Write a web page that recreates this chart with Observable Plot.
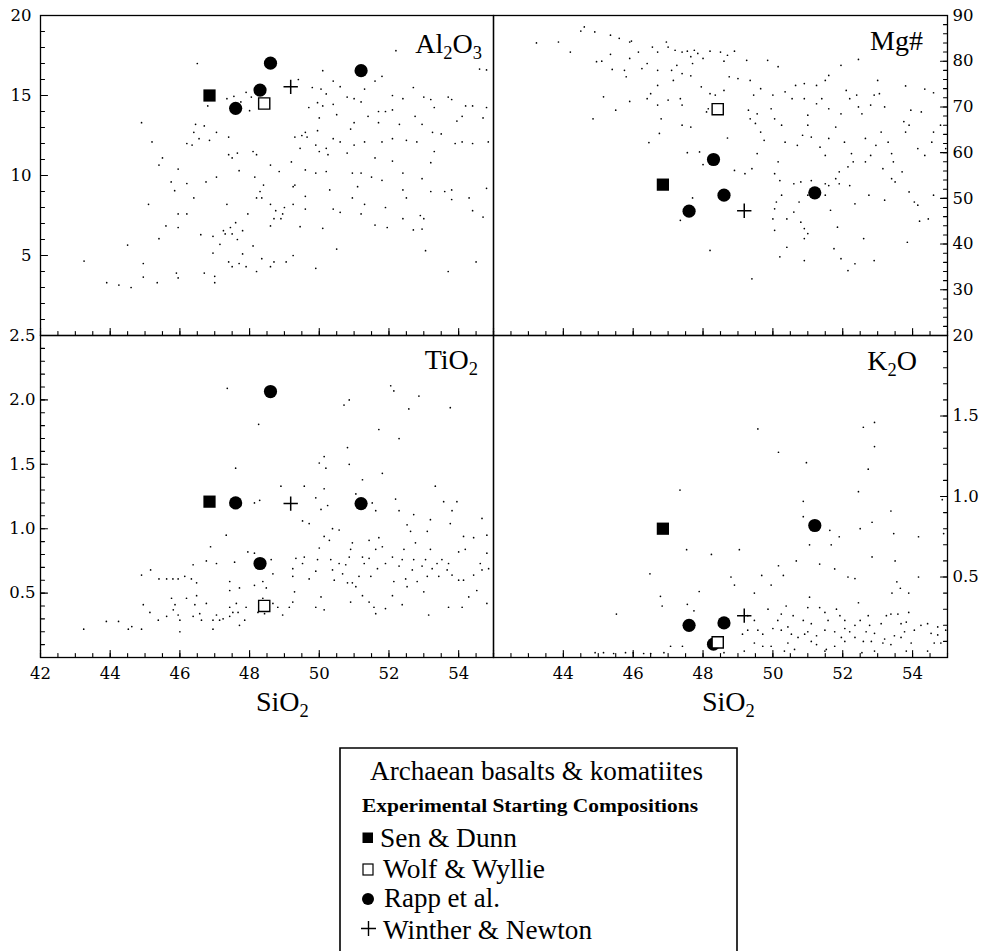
<!DOCTYPE html>
<html><head><meta charset="utf-8">
<script src="https://cdn.jsdelivr.net/npm/d3@7"></script>
<script src="https://cdn.jsdelivr.net/npm/@observablehq/plot@0.6"></script>
<style>
html,body{margin:0;padding:0;background:#fff;}
#root{position:relative;width:984px;height:951px;overflow:hidden;font-family:"Liberation Serif",serif;}
#root > svg{position:absolute;overflow:visible;}
#root > svg.panel text{font-family:"DejaVu Serif",serif !important;font-size:16.5px !important;fill:#000;}
</style></head><body><div id="root"></div>
<script>
// ---------- DATA ----------
// Experimental starting compositions (SiO2 shared by all four panels)
const expSeries = ["Sen & Dunn","Wolf & Wyllie","Rapp et al.","Rapp et al.","Rapp et al.","Rapp et al.","Winther & Newton"];
const expSiO2   = [46.85, 48.42, 47.6, 48.3, 48.6, 51.2, 49.18];
const expAl2O3  = [15.0, 14.5, 14.2, 15.34, 17.02, 16.55, 15.54];
const expMg     = [53.0, 69.5, 47.2, 58.5, 50.7, 51.2, 47.3];
const expTiO2   = [1.21, 0.40, 1.2, 0.73, 2.065, 1.195, 1.195];
const expK2O    = [0.80, 0.094, 0.20, 0.083, 0.215, 0.82, 0.26];

// Archaean basalts & komatiites  [SiO2, oxide]
const bgAl2O3 = [
[46.5,17.0],[52.2,17.8],[54.6,16.65],[54.8,16.6],[50.1,16.55],[49.4,16.0],[50.4,15.9],[50.6,15.55],[51.6,15.9],[51.8,16.2],
[49.8,15.5],[50.05,15.4],[50.2,15.1],[51.3,15.4],[50.8,14.9],[51.0,14.8],[51.2,14.6],[52.7,15.5],[52.1,15.0],[52.4,14.8],
[53.0,14.9],[53.2,14.75],[53.7,14.9],[53.8,14.75],[53.3,14.25],[54.2,14.35],[54.4,14.35],[54.8,14.25],[54.7,13.6],[54.1,13.7],
[53.95,13.4],[49.7,14.25],[49.95,14.55],[50.1,14.35],[50.4,14.45],[50.0,13.6],[50.5,13.8],[51.0,13.3],[51.7,14.0],[51.9,14.0],
[52.1,14.1],[52.75,13.7],[52.95,13.2],[52.3,13.2],[51.7,13.3],[51.4,13.7],[50.9,12.9],[49.95,12.8],[49.6,12.7],[49.3,12.4],
[50.4,12.3],[50.6,12.1],[51.0,11.9],[51.3,12.1],[51.8,12.1],[52.1,12.3],[52.5,12.2],[52.8,12.1],[53.25,12.7],[53.5,12.6],
[53.9,12.0],[54.1,12.1],[54.4,12.0],[54.85,12.1],[50.2,11.7],[50.25,11.3],[50.0,11.5],[50.8,11.4],[51.6,11.1],[52.1,10.9],
[52.4,10.15],[52.95,9.8],[53.3,11.5],[53.2,10.8],[50.95,10.15],[51.2,10.15],[51.5,9.9],[51.8,9.7],[49.6,10.35],[49.9,10.15],
[50.2,10.25],[49.2,10.85],[49.3,9.4],[50.3,9.1],[50.95,8.6],[51.1,9.3],[51.3,8.2],[52.4,9.1],[52.5,8.6],[53.2,9.0],
[53.6,9.0],[53.8,9.1],[53.8,8.5],[54.3,8.6],[54.8,9.2],[50.4,7.9],[50.6,7.7],[51.2,7.6],[51.9,8.0],[52.4,7.3],
[52.9,7.5],[53.0,7.3],[54.4,7.8],[54.7,7.4],[51.6,6.9],[51.95,6.75],[50.1,6.7],[52.7,6.6],[52.95,6.65],[53.05,5.3],
[50.5,5.4],[49.9,4.2],[53.7,4.0],[54.5,4.6],
[44.9,13.3],[45.2,12.1],[45.5,11.1],[45.4,10.65],[45.95,10.4],[45.75,9.6],[45.85,9.05],[46.2,9.5],[46.4,8.6],[45.1,8.2],
[45.6,6.85],[45.95,6.75],[45.4,6.05],[45.95,7.6],[46.2,7.6],[46.2,12.0],[46.35,11.9],[46.4,12.7],[46.55,12.3],[46.7,13.1],
[46.45,13.2],[46.85,12.2],[47.05,12.7],[47.4,12.4],[47.4,11.3],[47.65,11.4],[47.5,11.1],[47.7,10.3],[48.1,11.5],[48.2,11.3],
[46.75,9.6],[47.05,9.9],[47.35,8.2],[46.6,6.3],[46.95,6.2],[47.15,5.7],[46.95,5.15],[47.25,6.55],[47.3,6.35],[47.45,6.75],
[47.5,6.35],[47.6,7.05],[47.65,6.0],[47.8,6.55],[47.95,7.6],[48.1,5.6],[47.8,5.1],[47.4,4.6],[47.5,4.3],[47.7,4.5],
[47.9,4.3],[48.2,4.0],[48.35,4.8],[48.6,4.3],[48.7,4.6],[49.05,4.6],[49.25,5.0],[46.7,3.9],[47.0,3.7],[47.0,3.3],
[45.9,3.9],[45.95,3.6],[45.35,3.3],[44.95,3.65],[44.95,4.5],[44.6,3.0],[44.25,3.15],[43.9,3.3],[43.25,4.65],[44.5,5.65],
[48.15,9.9],[48.3,9.0],[48.35,8.6],[48.4,9.4],[48.2,8.6],[48.6,10.65],[48.85,10.25],[48.6,8.2],[48.75,7.8],[49.0,8.0],
[48.95,7.6],[49.25,8.2],[49.25,9.3],[49.6,8.7],[49.6,7.9],[49.45,6.8],[48.6,6.85],[48.7,7.3],[48.9,7.3],[47.35,14.8],
[47.55,14.95],[47.9,15.2],[48.0,14.05],[47.75,14.6],[48.05,14.9],[49.65,12.4],[49.45,11.7],[49.5,12.5],[49.9,11.9],[46.8,14.35]
];

const bgMg = [
[43.23,84.0],[43.86,84.2],[44.2,82.0],[44.5,86.6],[44.6,87.5],[44.9,86.4],[45.35,85.7],[45.6,85.0],[45.9,84.2],[45.95,84.4],
[45.35,81.5],[44.95,79.9],[45.1,80.0],[45.4,78.2],[45.75,78.0],[45.8,76.6],[45.9,80.6],[46.15,82.0],[46.25,78.4],[46.4,79.5],
[46.55,83.1],[46.7,82.0],[46.95,84.2],[47.0,83.1],[47.2,82.4],[47.4,82.0],[47.55,82.2],[47.75,82.4],[47.65,81.0],[47.85,81.7],
[47.25,79.1],[47.7,79.5],[48.0,80.6],[48.2,82.2],[48.5,82.0],[48.7,81.3],[48.9,82.2],[48.6,80.0],[49.25,80.2],[49.85,80.2],
[50.15,78.8],[46.7,78.0],[47.1,78.0],[47.4,77.3],[47.65,76.8],[47.15,75.8],[46.7,74.7],[46.5,72.9],[46.4,71.8],[46.7,70.4],
[47.0,71.5],[47.35,71.8],[47.4,70.4],[47.95,74.4],[48.2,72.9],[48.35,72.6],[48.6,73.6],[48.75,76.6],[49.0,76.2],[49.35,75.8],
[45.15,72.2],[44.85,67.4],[45.5,69.3],[45.9,71.2],[46.8,67.4],[47.4,66.0],[47.65,65.6],[46.75,64.2],[46.45,62.2],[48.1,68.9],
[48.15,69.6],[48.7,63.2],[47.55,60.0],[47.9,60.15],[48.0,57.4],[48.9,56.1],[49.2,55.4],[49.4,56.5],[49.55,59.8],[47.35,45.2],
[47.7,50.1],[48.2,38.6],[49.4,32.4],[49.3,69.3],[49.35,67.4],[49.45,72.6],[49.55,68.5],[49.65,74.0],[49.5,66.4],[49.65,64.5],
[49.75,62.7],[50.0,72.6],[49.95,69.6],[50.05,67.4],[50.25,66.0],[50.35,73.3],[50.55,71.8],[50.35,62.3],[50.15,58.0],[50.05,55.4],
[50.2,53.9],[50.25,50.7],[50.1,49.2],[50.05,47.7],[50.0,45.5],[50.05,43.0],[50.4,45.5],[50.4,39.3],[50.2,37.2],[50.6,53.2],
[50.8,53.6],[50.75,49.2],[50.6,47.0],[50.8,44.8],[50.9,43.4],[51.0,42.3],[50.9,41.2],[51.1,53.9],[50.9,36.4],[50.7,61.6],
[50.85,63.8],[51.0,66.0],[51.0,68.2],[50.9,75.1],[50.65,74.7],[50.9,71.8],[51.25,74.7],[51.5,75.8],[51.6,76.9],[51.95,79.1],
[52.45,80.4],[53.0,75.8],[53.8,74.6],[54.35,73.9],[54.6,73.1],[51.25,70.7],[51.4,71.8],[51.6,69.6],[51.1,63.4],[51.35,61.2],
[51.6,63.1],[51.5,59.4],[51.8,65.6],[51.95,68.5],[52.1,73.6],[52.2,71.8],[52.45,70.0],[52.55,68.5],[52.8,70.4],[52.9,72.6],
[53.05,72.9],[53.2,70.0],[52.05,62.3],[52.25,59.8],[52.3,58.0],[52.15,56.9],[51.9,55.8],[52.65,63.1],[52.8,59.4],[52.95,61.6],
[53.1,64.5],[53.3,62.3],[53.4,59.8],[53.45,58.0],[53.7,55.8],[53.8,64.5],[53.9,66.0],[53.95,69.3],[53.75,66.8],[54.25,68.9],
[54.15,60.9],[54.35,59.4],[54.55,62.3],[54.6,64.5],[54.8,66.0],[54.95,60.9],[53.9,51.4],[54.05,49.2],[54.15,48.5],[54.2,45.0],
[54.45,45.5],[54.6,50.7],[53.85,40.4],[53.2,49.6],[52.75,50.7],[52.35,48.8],[52.2,52.8],[51.8,54.3],[51.5,50.7],[51.65,47.4],
[51.85,43.7],[51.75,39.0],[51.95,36.8],[52.15,34.2],[52.35,35.7],[52.6,41.2],[52.9,36.4],[51.6,52.8],[51.5,53.2],[51.9,53.2],
[52.65,58.0],[53.15,56.5],[53.4,54.3],[53.5,53.6],[51.0,50.7],[52.4,72.6]
];

const bgTiO2 = [
[47.36,2.09],[48.26,1.81],[47.6,1.47],[47.33,0.95],[46.88,0.86],[47.05,0.73],[46.76,0.75],[46.38,0.72],[46.14,0.63],[46.48,0.58],
[46.33,0.61],[45.62,0.61],[45.8,0.61],[45.95,0.61],[45.4,0.61],[45.16,0.68],[44.9,0.64],[44.95,0.41],[45.14,0.35],[45.38,0.29],
[45.62,0.32],[45.76,0.46],[45.86,0.41],[45.81,0.37],[45.95,0.33],[46.0,0.29],[46.19,0.46],[46.43,0.41],[46.57,0.34],[46.62,0.29],
[46.76,0.42],[46.48,0.48],[46.95,0.29],[47.05,0.33],[47.14,0.29],[46.95,0.22],[47.24,0.3],[47.43,0.32],[47.52,0.35],[47.43,0.39],
[47.62,0.42],[47.67,0.35],[47.71,0.25],[47.86,0.29],[47.9,0.39],[47.43,0.52],[47.71,0.54],[47.43,0.59],[47.57,0.74],[47.95,0.82],
[48.14,0.81],[48.14,0.56],[48.38,0.59],[48.48,0.54],[48.62,0.76],[48.67,0.65],[48.38,0.46],[48.67,0.42],[48.81,0.39],[48.95,0.33],
[49.14,0.39],[49.24,0.43],[49.29,0.51],[49.24,0.63],[49.24,0.69],[49.33,0.77],[49.52,0.73],[49.57,0.78],[49.71,0.61],[49.9,0.67],
[49.9,0.39],[50.14,0.37],[50.05,0.47],[49.95,0.76],[50.0,0.85],[50.14,0.94],[50.29,0.91],[50.38,1.0],[50.57,0.99],[50.33,0.76],
[50.38,0.68],[50.57,0.73],[50.43,0.6],[50.67,0.65],[50.76,0.72],[50.86,0.78],[50.9,0.84],[50.95,0.89],[50.81,0.58],[50.95,0.58],
[51.05,0.55],[51.14,0.63],[51.29,0.73],[51.24,0.78],[51.24,0.48],[50.9,0.43],[51.43,0.43],[51.57,0.39],[51.62,0.34],[51.9,0.38],
[51.48,0.63],[51.43,0.77],[51.67,0.69],[51.62,0.84],[51.43,0.91],[51.71,0.93],[51.81,0.86],[51.9,0.73],[52.1,0.78],[52.14,0.59],
[52.1,0.48],[52.29,0.71],[52.38,0.76],[52.43,0.84],[52.48,0.61],[52.52,0.55],[52.67,0.68],[52.71,0.76],[52.76,0.89],[52.81,0.59],
[52.95,0.71],[53.05,0.76],[53.1,0.63],[53.0,0.51],[53.19,0.84],[53.14,0.33],[52.38,0.41],[52.62,0.98],[53.1,0.98],[52.52,1.03],
[53.24,0.69],[53.38,0.73],[53.43,0.63],[53.52,0.76],[53.67,0.68],[53.81,0.64],[53.71,0.73],[54.0,0.6],[54.14,0.6],[54.0,0.82],
[54.19,0.84],[54.29,0.47],[54.43,0.64],[54.62,0.73],[54.67,0.68],[54.81,0.81],[54.86,0.69],[54.52,0.52],[54.81,0.42],[54.1,0.39],
[53.71,0.39],[54.14,0.94],[54.43,0.93],[54.81,0.95],[54.67,1.08],[53.95,1.21],[53.81,1.14],[53.76,1.04],[53.57,1.21],[53.33,1.33],
[53.19,1.07],[52.71,1.11],[52.29,1.14],[52.19,1.23],[51.81,1.43],[51.71,1.77],[52.29,1.7],[52.14,2.07],[52.05,2.11],[52.86,2.03],
[52.57,1.93],[53.76,1.94],[50.86,2.0],[50.71,1.96],[50.81,1.63],[50.86,1.5],[50.14,1.56],[50.0,1.51],[50.19,1.47],[50.14,1.31],
[51.24,1.38],[51.05,1.27],[51.62,1.14],[51.52,1.2],[49.9,1.24],[50.05,1.15],[50.24,1.18],[49.71,1.04],[49.52,1.06],[49.57,1.33],
[48.9,1.33],[48.29,1.22],[48.14,1.2],[43.24,0.22],[43.89,0.28],[44.24,0.28],[44.52,0.22],[44.62,0.24],[44.9,0.22],[46.0,0.2],
[46.38,0.32],[48.24,0.35],[48.43,0.34]
];

const bgK2O = [
[49.57,1.42],[50.16,1.275],[50.96,1.21],[52.59,1.43],[52.91,1.46],[52.91,1.31],[52.73,1.17],[52.45,1.03],[54.85,0.98],[50.87,0.97],
[50.87,0.875],[53.38,0.91],[52.84,0.84],[52.5,0.8],[51.63,0.79],[51.9,0.75],[53.46,0.77],[54.17,0.75],[54.89,0.77],[51.05,0.70],
[51.67,0.70],[47.34,1.04],[47.53,0.67],[48.24,0.64],[49.04,0.67],[50.67,0.60],[52.84,0.625],[53.5,0.60],[51.34,0.58],[50.16,0.57],
[49.68,0.51],[50.3,0.51],[48.8,0.50],[48.9,0.45],[49.95,0.45],[51.77,0.55],[52.15,0.50],[52.35,0.49],[53.55,0.47],[54.17,0.50],
[53.65,0.43],[53.41,0.40],[53.89,0.40],[46.48,0.52],[46.78,0.38],[46.83,0.32],[45.52,0.27],[47.55,0.33],[47.89,0.41],[47.74,0.29],
[49.47,0.40],[49.28,0.26],[49.47,0.23],[49.57,0.17],[49.28,0.17],[49.86,0.30],[50.24,0.27],[50.38,0.32],[50.14,0.23],[50.0,0.18],
[50.24,0.17],[50.43,0.19],[50.58,0.26],[50.87,0.23],[51.05,0.375],[51.0,0.31],[51.34,0.31],[51.49,0.28],[51.82,0.30],[51.92,0.26],
[51.58,0.23],[51.49,0.17],[51.77,0.16],[51.96,0.125],[52.06,0.18],[52.35,0.20],[52.45,0.34],[52.73,0.26],[52.77,0.20],[52.67,0.16],
[52.91,0.15],[53.1,0.21],[53.25,0.26],[53.38,0.27],[53.58,0.27],[53.82,0.22],[53.77,0.16],[53.48,0.135],[53.67,0.125],[53.96,0.09],
[54.05,0.17],[54.24,0.20],[54.43,0.21],[54.53,0.15],[54.72,0.14],[54.81,0.09],[54.62,0.09],[54.43,0.04],[53.82,0.04],[53.38,0.08],
[53.15,0.09],[52.82,0.10],[52.59,0.10],[52.35,0.125],[52.2,0.16],[52.06,0.10],[51.77,0.07],[51.53,0.05],[51.25,0.08],[51.25,0.135],
[51.1,0.10],[50.91,0.145],[50.72,0.125],[50.62,0.05],[50.33,0.04],[50.43,0.09],[49.95,0.07],[49.71,0.07],[49.47,0.09],[49.13,0.145],
[49.18,0.04],[48.6,0.03],[47.41,0.07],[47.07,0.07],[46.88,0.03],[46.5,0.025],[46.3,0.025],[46.0,0.03],[45.78,0.03],[45.44,0.025],
[45.15,0.03],[44.91,0.03],[51.49,0.04],[52.55,0.03],[52.91,0.04],[53.2,0.115],[53.67,0.21],[53.89,0.28],[51.1,0.21],[51.0,0.16],
[52.06,0.23],[52.5,0.23],[50.53,0.145],[49.71,0.145],[54.95,0.17],[54.72,0.19]
];

// Axes: tick label values
const xLabelsLeft  = [42, 44, 46, 48, 50, 52, 54];
const xLabelsRight = [44, 46, 48, 50, 52, 54];
const yLabelsAl2O3 = [5, 10, 15, 20];
const yLabelsMg    = [20, 30, 40, 50, 60, 70, 80, 90];
const yLabelsTiO2  = [0.5, 1.0, 1.5, 2.0, 2.5];
const yLabelsK2O   = [0.5, 1.0, 1.5];

// ---------- DRAWING ----------
const root = document.getElementById("root");
const FONT = "'Liberation Serif', serif";
const tickShape = {draw(ctx, l) { ctx.moveTo(0, 0); ctx.lineTo(0, -l); }};

function tickMarks(values, dim, anchor, len) {
  const rot = {bottom: 0, left: 90, right: -90}[anchor];
  const o = {frameAnchor: anchor, rotate: rot, length: len, anchor: "start", shape: tickShape, strokeWidth: 1.1, stroke: "black"};
  if (dim === "x") o.x = d => d; else o.y = d => d;
  return Plot.vector(values, o);
}

function panel(cfg) {
  const exp = expSeries.map((s, i) => ({s, x: expSiO2[i], y: cfg.ey[i]}));
  const pick = s => exp.filter(d => d.s === s);
  const marks = [
    Plot.dot(cfg.bg, {x: d => d[0], y: d => d[1], r: 0.85, fill: "black"}),
    tickMarks(d3.range(42, 55.001, 0.5), "x", "bottom", 4),
    tickMarks(xLabelsLeft, "x", "bottom", 7),
    tickMarks(cfg.yMinor, "y", cfg.side, 4),
    tickMarks(cfg.yLabels, "y", cfg.side, 7),
    Plot.frame({stroke: "black", strokeWidth: 1.3}),
    Plot.dot(pick("Sen & Dunn"), {x: "x", y: "y", symbol: "square", r: 6.9, fill: "black"}),
    Plot.dot(pick("Rapp et al."), {x: "x", y: "y", symbol: "circle", r: 6.6, fill: "black"}),
    Plot.dot(pick("Wolf & Wyllie"), {x: "x", y: "y", symbol: "square", r: 6.3, fill: "white", stroke: "black", strokeWidth: 1.4}),
    Plot.dot(pick("Winther & Newton"), {x: "x", y: "y", symbol: "plus", r: 4.7, stroke: "black", strokeWidth: 1.5}),
    Plot.axisY(cfg.yLabels, {anchor: cfg.side, tickSize: 0, tickPadding: cfg.pad, tickFormat: cfg.fmt, label: null, fontSize: 16.5})
  ];
  if (cfg.xLabels) marks.push(Plot.axisX(cfg.xLabels, {anchor: "bottom", tickSize: 0, tickPadding: 10, label: null, fontSize: 16.5}));
  const p = Plot.plot({
    width: cfg.w, height: cfg.h,
    marginTop: cfg.mt, marginBottom: cfg.mb, marginLeft: cfg.ml, marginRight: cfg.mr,
    x: {domain: [42, 55], axis: null},
    y: {domain: cfg.yDomain, axis: null},
    style: {fontFamily: "'DejaVu Serif', serif", fontSize: "16.5px", color: "black", background: "transparent", overflow: "visible"},
    marks
  });
  p.classList.add("panel");
  p.style.left = cfg.left + "px";
  p.style.top = cfg.top + "px";
  root.append(p);
}

const X0 = 40, XM = 493, X1 = 947, Y0 = 15, YM = 335, Y1 = 657;

panel({bg: bgAl2O3, ey: expAl2O3, yDomain: [0, 20], yLabels: yLabelsAl2O3, yMinor: d3.range(0, 20.001, 1), fmt: d3.format("d"), side: "left", pad: 9,
  left: 0, top: 0, w: XM, h: YM, mt: Y0, mb: 0, ml: X0, mr: 0});
panel({bg: bgMg, ey: expMg, yDomain: [20, 90], yLabels: yLabelsMg, yMinor: d3.range(20, 90.001, 2), fmt: d3.format("d"), side: "right", pad: 5,
  left: XM, top: 0, w: X1 - XM + 40, h: YM, mt: Y0, mb: 0, ml: 0, mr: 40});
panel({bg: bgTiO2, ey: expTiO2, yDomain: [0, 2.5], yLabels: yLabelsTiO2, yMinor: d3.range(0, 2.5001, 0.1), fmt: d3.format(".1f"), side: "left", pad: 5,
  xLabels: xLabelsLeft, left: 0, top: YM, w: XM, h: Y1 - YM + 40, mt: 0, mb: 40, ml: X0, mr: 0});
panel({bg: bgK2O, ey: expK2O, yDomain: [0, 2], yLabels: yLabelsK2O, yMinor: d3.range(0, 2.0001, 0.1), fmt: d3.format(".1f"), side: "right", pad: 5,
  xLabels: xLabelsRight, left: XM, top: YM, w: X1 - XM + 40, h: Y1 - YM + 40, mt: 0, mb: 40, ml: 0, mr: 40});

// ---------- TEXT OVERLAY (panel labels, axis titles, legend) ----------
const ov = d3.select(root).append("svg")
  .attr("class", "ov")
  .attr("width", 984).attr("height", 951)
  .style("left", "0px").style("top", "0px").style("pointer-events", "none")
  .attr("font-family", FONT);

function chem(x, y, parts, size, anchor) {
  const t = ov.append("text").attr("x", x).attr("y", y).attr("font-size", size).attr("text-anchor", anchor || "end");
  let low = false;
  for (const p of parts) {
    const isSub = /^\d$/.test(p);
    const ts = t.append("tspan").text(p);
    if (isSub && !low) { ts.attr("dy", size * 0.22).attr("font-size", size * 0.66); low = true; }
    else if (!isSub && low) { ts.attr("dy", -size * 0.22); low = false; }
    else if (isSub) ts.attr("font-size", size * 0.66);
  }
  return t;
}
chem(482, 53, ["Al", "2", "O", "3"], 28);
chem(923, 50, ["Mg#"], 28);
chem(478, 369, ["Ti", "O", "2"], 28);
chem(917, 370, ["K", "2", "O"], 28);
chem(256, 711, ["Si", "O", "2"], 28, "start");
chem(702, 711, ["Si", "O", "2"], 28, "start");

// Legend
const legendTitle = "Archaean basalts & komatiites";
const legendSub = "Experimental Starting Compositions";
ov.append("path").attr("d", "M340,955V748H737V955").attr("fill", "none").attr("stroke", "black").attr("stroke-width", 1.6);
ov.append("text").attr("x", 370).attr("y", 780).attr("font-size", 27).attr("textLength", 333).attr("lengthAdjust", "spacingAndGlyphs").text(legendTitle);
ov.append("text").attr("x", 362).attr("y", 812).attr("font-size", 18.5).attr("font-weight", "bold").attr("textLength", 336).attr("lengthAdjust", "spacingAndGlyphs").text(legendSub);
const rows = [
  {s: "Sen & Dunn", y: 847, tx: 380, len: 137},
  {s: "Wolf & Wyllie", y: 878, tx: 383, len: 162},
  {s: "Rapp et al.", y: 907, tx: 384, len: 116},
  {s: "Winther & Newton", y: 939, tx: 383, len: 209}
];
for (const r of rows) {
  ov.append("text").attr("x", r.tx).attr("y", r.y).attr("font-size", 27).attr("textLength", r.len).attr("lengthAdjust", "spacingAndGlyphs").text(r.s);
}
ov.append("rect").attr("x", 362.5).attr("y", 832.5).attr("width", 10.5).attr("height", 10.5).attr("fill", "black");
ov.append("rect").attr("x", 363).attr("y", 864).attr("width", 10).attr("height", 11).attr("fill", "white").attr("stroke", "black").attr("stroke-width", 1.2);
ov.append("circle").attr("cx", 368).attr("cy", 899).attr("r", 6).attr("fill", "black");
ov.append("path").attr("d", "M361,928.5H376M368.5,921V936").attr("stroke", "black").attr("stroke-width", 1.4);
</script></body></html>
